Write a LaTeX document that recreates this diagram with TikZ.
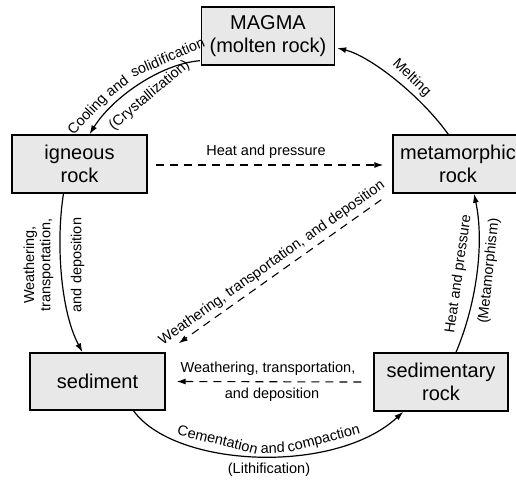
\documentclass[tikz,border=0pt]{standalone}
\usepackage{fontspec}
\setmainfont{Liberation Sans}
\usetikzlibrary{arrows.meta,calc}
\begin{document}
\begin{tikzpicture}[x=1pt,y=-1pt,
  box/.style={draw, line width=1.4pt, fill=gray!18, inner sep=0pt, align=center,
    font=\fontsize{20}{23}\selectfont},
  lbl/.style={font=\fontsize{14.5}{16.5}\selectfont, inner sep=1pt},
  wlbl/.style={lbl, anchor=base, inner sep=0pt, rotate=#1},
  conn/.style={line width=1.2pt, -{Latex[length=9pt,width=6pt]}},
  dconn/.style={line width=1.1pt, dash pattern=on 8pt off 6pt, -{Latex[length=9pt,width=6pt]}}
]
\useasboundingbox (0,0) rectangle (516,485);
\clip (0,0) rectangle (516,485);

% boxes
\node[box, minimum width=133pt, minimum height=58pt] (magma) at (268,36) {MAGMA\\(molten rock)};
\node[box, minimum width=135pt, minimum height=58pt] (igneous) at (79.5,164) {igneous\\rock};
\node[box, minimum width=130pt, minimum height=58pt] (meta) at (458,164) {metamorphic\\rock};
\node[box, minimum width=135pt, minimum height=57pt] (sediment) at (97.5,381.5) {sediment};
\node[box, minimum width=134pt, minimum height=58pt] (sedrock) at (441,382) {sedimentary\\rock};

% solid cycle connectors
\draw[conn] ($(magma.south west)+(-1,-5)$) .. controls (160,64) and (112,98) .. ($(igneous.north)+(10,0)$);
\draw[conn] ($(meta.north west)+(56,0)$) .. controls (420,95) and (370,56) .. ($(magma.east)+(2,12)$);
\draw[conn] ($(igneous.south)+(-16,0)$) .. controls (56,240) and (60,310) .. ($(sediment.north)+(-15,0)$);
\draw[conn] ($(sediment.south)+(36,0)$) .. controls (175,468) and (335,475) .. ($(sedrock.south west)+(30,0)$);
\draw[conn] ($(sedrock.north)+(15,0)$) .. controls (478,300) and (484,240) .. ($(meta.south)+(16,0)$);

% dashed shortcuts
\draw[dconn] ($(igneous.east)+(8,1)$) -- ($(meta.west)+(-9,1)$);
\draw[dconn] ($(meta.south west)+(-11,6)$) -- ($(sediment.north east)+(13,-9)$);
\draw[dconn] ($(sedrock.west)+(-12,0)$) -- ($(sediment.east)+(11,0)$);

% straight labels
\node[lbl] (heat) at (266,152) {Heat and pressure};
\node[lbl, rotate=35.4] (wtd) at (272,263) {Weathering, transportation, and deposition};
\node[lbl] (wt2) at (268,369) {Weathering, transportation,};
\node[lbl] (ad2) at (272,395) {and deposition};
\node[lbl] (lith) at (269,470) {(Lithification)};

% labels following the curved connectors (baseline anchored)
\node[wlbl=47]   (cool1) at (90.5,117.5) {Cooling};
\node[wlbl=37.5] (cool2) at (120,90) {and};
\node[wlbl=23.5] (cool3) at (169.5,62) {solidification};
\node[wlbl=40]   (cryst) at (152,98) {(Crystallization)};
\node[wlbl=-44]  (melt)  at (409,80.6) {Melting};
\node[wlbl=90]   (wl1) at (34.1,265) {Weathering,};
\node[wlbl=90]   (wl2) at (50.3,265) {transportation,};
\node[wlbl=90]   (wl3) at (81.3,265) {and deposition};
\node[wlbl=82]   (hp1) at (462.5,274.4) {Heat and pressure};
\node[wlbl=84]   (hp2) at (493,271.5) {(Metamorphism)};
\node[wlbl=-14]  (cem1) at (216.5,444.5) {Cementation};
\node[wlbl=1.8]  (cem2) at (272.9,453) {and};
\node[wlbl=14.8] (cem3) at (324.8,443.3) {compaction};
\end{tikzpicture}
\end{document}
